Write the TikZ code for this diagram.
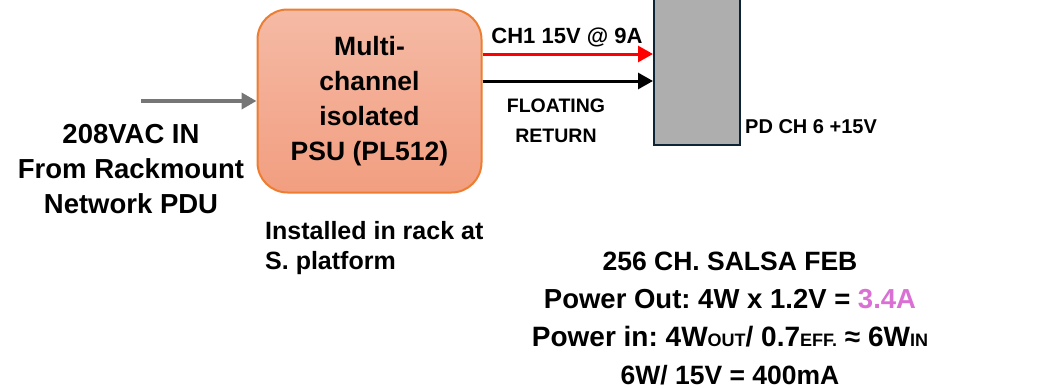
\documentclass[tikz,border=0pt]{standalone}
\usepackage{fontspec}
\setmainfont{Liberation Sans}
\usepackage{tikz}
\usetikzlibrary{positioning,arrows.meta}

\definecolor{psutop}{RGB}{245,186,165}
\definecolor{psubot}{RGB}{242,158,128}
\definecolor{psuedge}{RGB}{237,125,49}
\definecolor{febgray}{RGB}{174,174,174}
\definecolor{febedge}{RGB}{14,36,52}
\definecolor{acgray}{RGB}{118,118,118}
\definecolor{ampcol}{RGB}{218,112,212}
\frenchspacing

\begin{document}
\begin{tikzpicture}[
			x=1pt, y=-1pt,
			every node/.style={
					font=\bfseries,
					inner sep=0pt
				},
			feed/.style={
					line width=3pt,
					-{Triangle[length=15pt,width=16pt]}
				}
		]

		\useasboundingbox (0,0) rectangle (1053,388);

		% power supply block
		\node (psu) at (369.5,101) [
			draw=psuedge,
			line width=2pt,
			top color=psutop,
			bottom color=psubot,
			rounded corners=30pt,
			minimum width=224pt,
			minimum height=183pt,
			align=center,
			font=\bfseries\fontsize{26.5}{35}\selectfont]
		{Multi-\\channel\\isolated\\PSU (PL512)};

		% front end board (runs off the top)
		\draw[febedge, fill=febgray, line width=2.5pt]
		(654,-10) rectangle (740,145);
		\coordinate (febred) at (653,54);
		\coordinate (febblk) at (653,81);
		\coordinate (acin) at (141,101);

		\draw[feed, acgray, line width=3.8pt] (acin) -- (psu.west |- acin);
		\draw[feed, red] (psu.east |- febred) -- (febred);
		\draw[feed, black] (psu.east |- febblk) -- (febblk);

		% multi-line nodes: base is the last line
		\node (ac) [anchor=base, align=center,
			font=\bfseries\fontsize{27.5}{35}\selectfont]
		at (131,213) {208VAC IN\\From Rackmount\\Network PDU};

		\node (rack) [anchor=base west, align=left,
			font=\bfseries\fontsize{25}{30}\selectfont]
		at (265,269) {Installed in rack at\\S. platform};

		\node (ch1) [anchor=base, font=\bfseries\fontsize{22}{26}\selectfont]
		at (567,43) {CH1 15V @ 9A};

		\node (ret) [anchor=base, align=center,
			font=\bfseries\fontsize{19.5}{30}\selectfont]
		at (556,142) {FLOATING\\RETURN};

		\node (pd) [anchor=base west, font=\bfseries\fontsize{20}{24}\selectfont]
		at (745,133) {PD CH 6 +15V};

		% board power budget
		\node (feb) [anchor=base, align=center,
			font=\bfseries\fontsize{26.5}{38}\selectfont]
		at (730,384)
		{256 CH. SALSA FEB\\
			{\fontsize{27.5}{38}\selectfont Power Out: 4W x 1.2V = \textcolor{ampcol}{3.4A}}\\
			{\fontsize{28}{38}\selectfont Power in: 4W{\fontsize{18}{18}\selectfont OUT}/ 0.7{\fontsize{18}{18}\selectfont EFF.} ≈ 6W{\fontsize{18}{18}\selectfont IN}}\\
			6W/ 15V = 400mA};

	\end{tikzpicture}
\end{document}
